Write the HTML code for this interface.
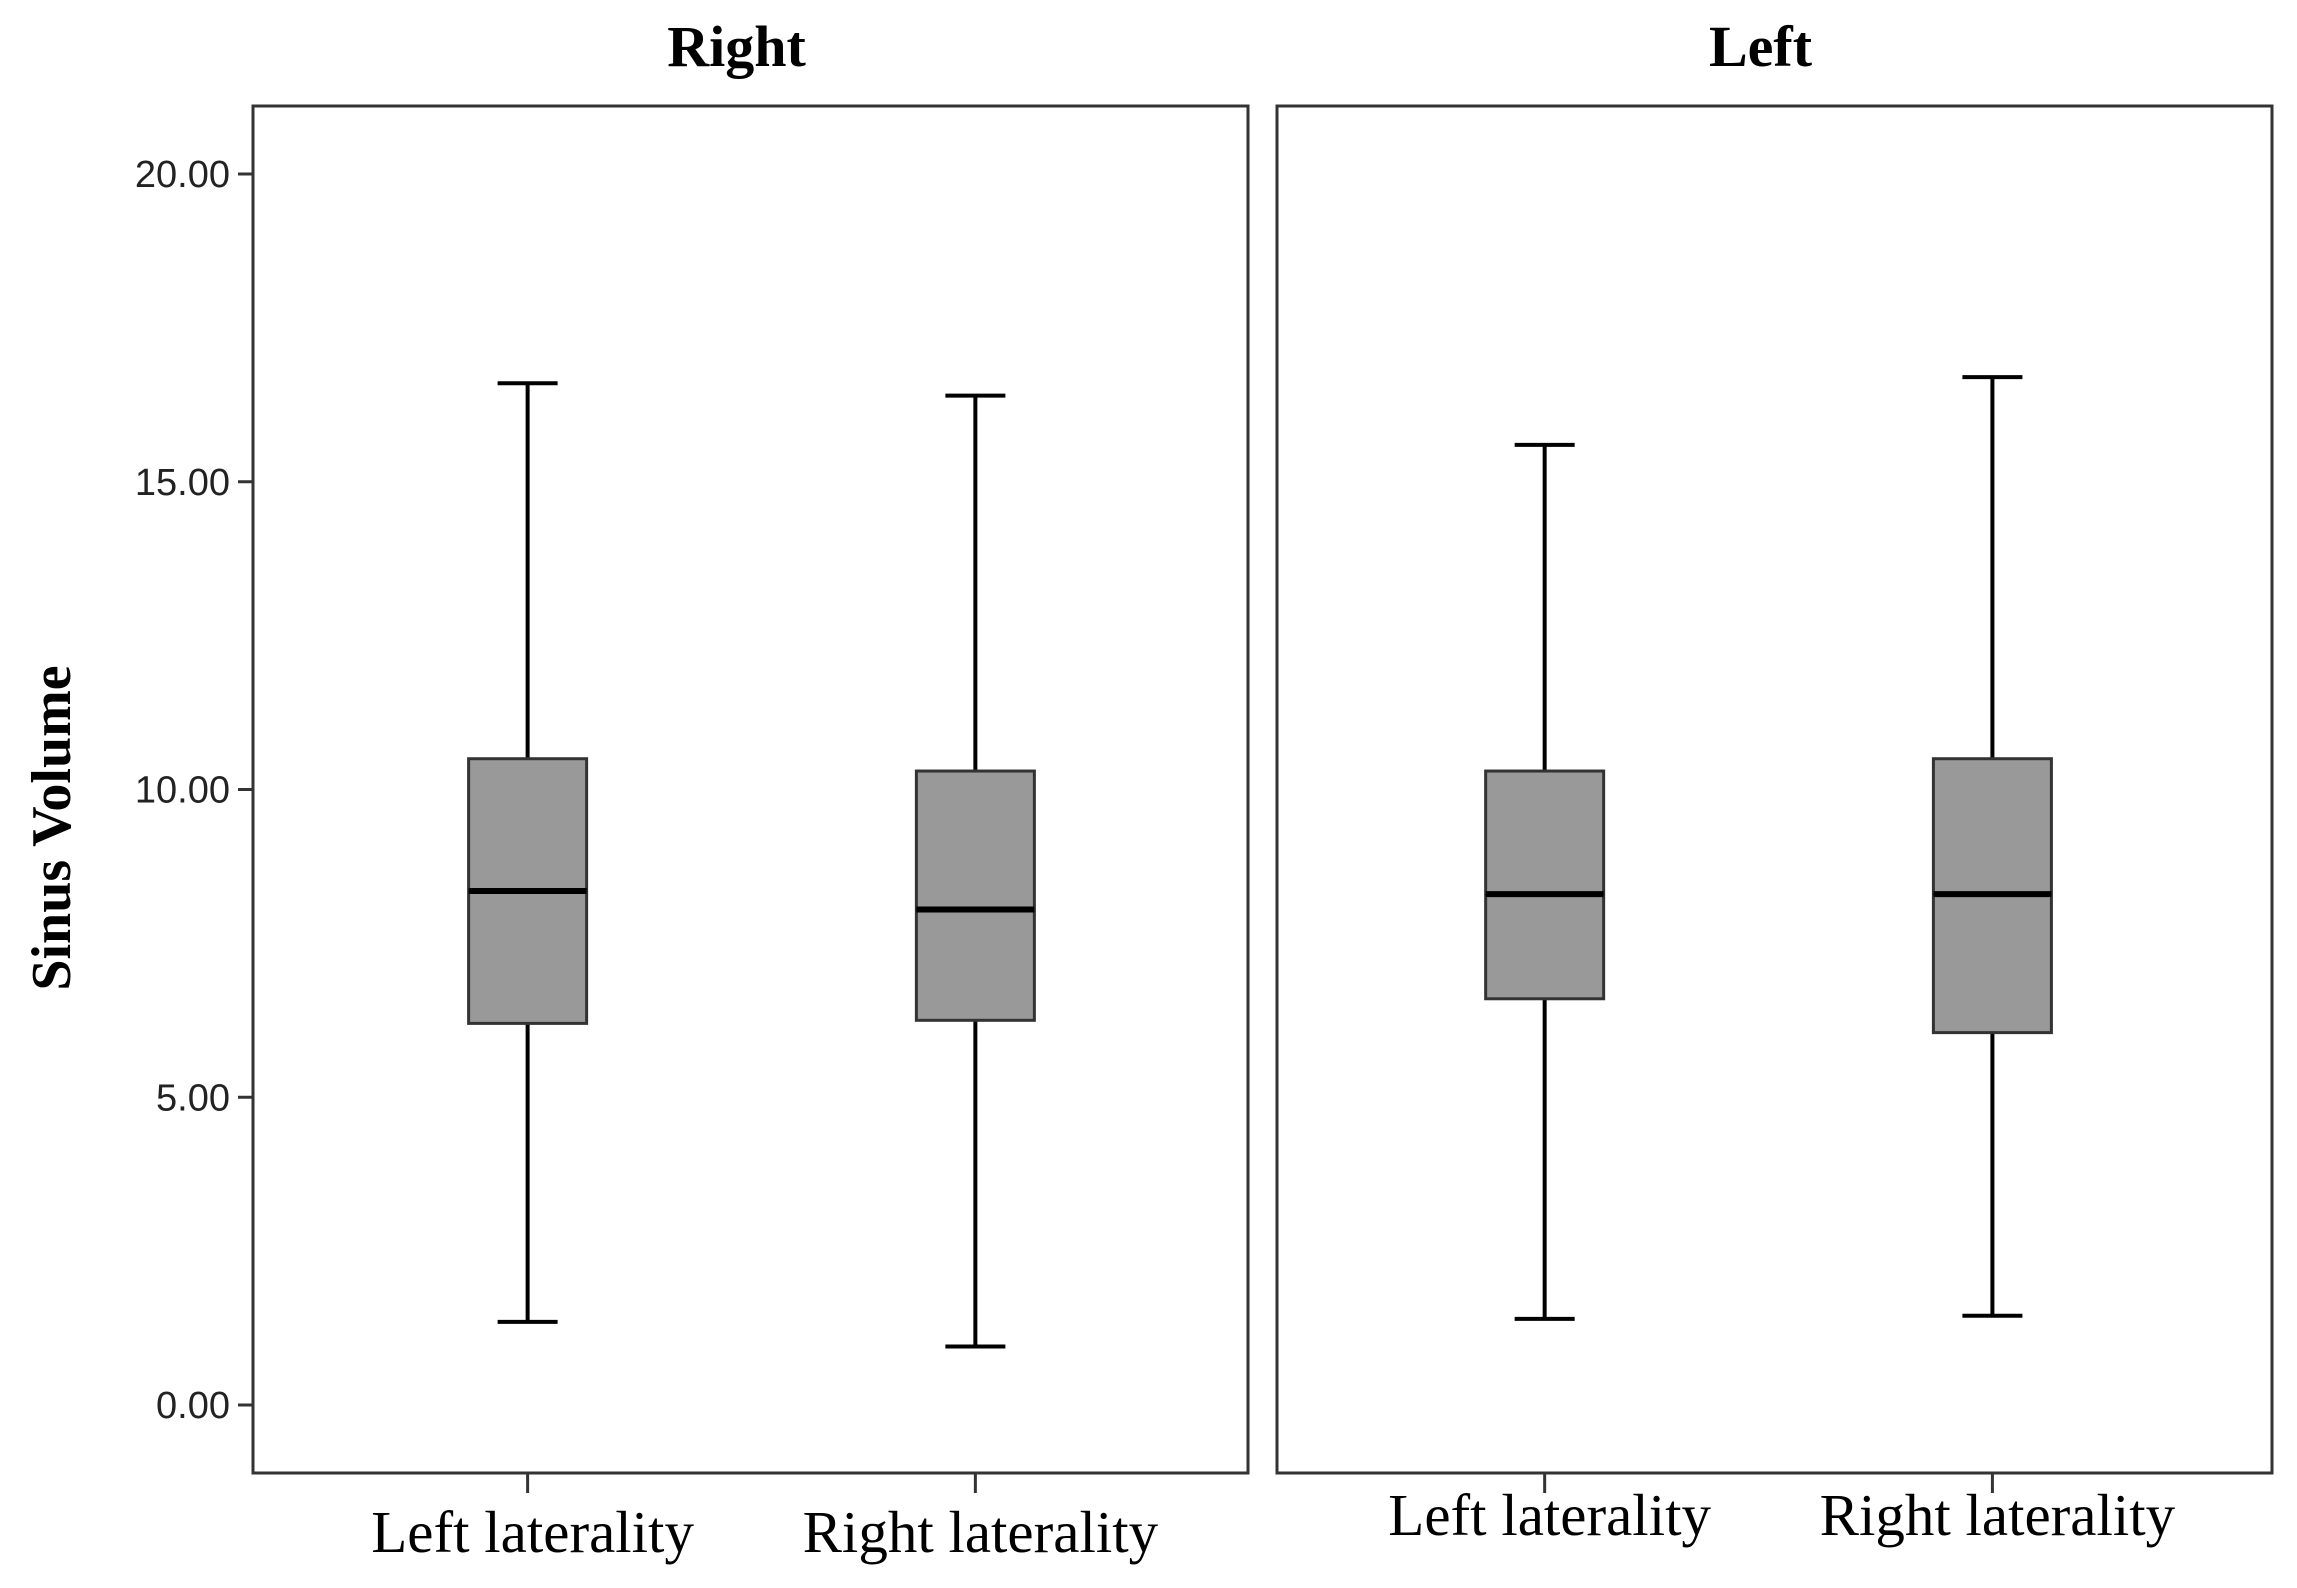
<!DOCTYPE html>
<html><head><meta charset="utf-8"><style>html,body{margin:0;padding:0;background:#fff}svg{display:block}</style></head>
<body>
<svg id="chart" width="2297" height="1588" xmlns="http://www.w3.org/2000/svg"></svg>
<script>
const panels = ["Right", "Left"];
const categories = ["Left laterality", "Right laterality"];
const mins = [[1.35, 0.95], [1.4, 1.45]];
const q1s = [[6.2, 6.25], [6.6, 6.05]];
const medians = [[8.35, 8.05], [8.3, 8.3]];
const q3s = [[10.5, 10.3], [10.3, 10.5]];
const maxs = [[16.6, 16.4], [15.6, 16.7]];
const yTicks = [0, 5, 10, 15, 20];
const yTickLabels = ["0.00", "5.00", "10.00", "15.00", "20.00"];

const NS = "http://www.w3.org/2000/svg";
const svg = document.getElementById('chart');
function el(tag, attrs, parent) {
  const e = document.createElementNS(NS, tag);
  for (const k in attrs) e.setAttribute(k, attrs[k]);
  (parent || svg).appendChild(e);
  return e;
}
const y = v => 1405 - v * 61.55;
const panelX = [[253, 1248], [1277, 2272]];
const catFrac = [[0.276, 0.726], [0.269, 0.719]];
const xPos = (p, c) => panelX[p][0] + (panelX[p][1] - panelX[p][0]) * catFrac[p][c];
const labelY = [1552, 1535];

panels.forEach((name, p) => {
  const g = el('g', {});
  
  
  const frame = el('rect', {x: panelX[p][0], y: 106, width: panelX[p][1] - panelX[p][0], height: 1367, fill: 'none', stroke: '#333', 'stroke-width': 3}, g);
  
  
  const t = el('text', {x: (panelX[p][0] + panelX[p][1]) / 2 - 14, y: 66, 'text-anchor': 'middle', 'font-family': 'Liberation Serif, serif', 'font-weight': 'bold', 'font-size': 58}, g);
  t.textContent = name;
  
  
  categories.forEach((cat, c) => {
    const cx = xPos(p, c);
    const bg = el('g', {}, g);
    
    
    el('line', {x1: cx, x2: cx, y1: y(mins[p][c]), y2: y(maxs[p][c]), stroke: '#000', 'stroke-width': 4}, bg);
    el('line', {x1: cx - 30, x2: cx + 30, y1: y(maxs[p][c]), y2: y(maxs[p][c]), stroke: '#000', 'stroke-width': 4}, bg);
    el('line', {x1: cx - 30, x2: cx + 30, y1: y(mins[p][c]), y2: y(mins[p][c]), stroke: '#000', 'stroke-width': 4}, bg);
    el('rect', {x: cx - 59, y: y(q3s[p][c]), width: 118, height: y(q1s[p][c]) - y(q3s[p][c]), fill: '#999', stroke: '#333', 'stroke-width': 3}, bg);
    el('line', {x1: cx - 59, x2: cx + 59, y1: y(medians[p][c]), y2: y(medians[p][c]), stroke: '#000', 'stroke-width': 6}, bg);
    el('line', {x1: cx, x2: cx, y1: 1473, y2: 1493, stroke: '#333', 'stroke-width': 3}, g);
    const lt = el('text', {x: cx + 5, y: labelY[p], 'text-anchor': 'middle', 'font-family': 'Liberation Serif, serif', 'font-size': 59}, g);
    lt.textContent = cat;
    
    
  });
});

yTicks.forEach((v, i) => {
  el('line', {x1: 238, x2: 253, y1: y(v), y2: y(v), stroke: '#333', 'stroke-width': 3});
  const t = el('text', {x: 230, y: y(v) + 13, 'text-anchor': 'end', 'font-family': 'Liberation Sans, sans-serif', 'font-size': 38, fill: '#222'});
  t.textContent = yTickLabels[i];
  
  
});
const yt = el('text', {x: 0, y: 0, transform: 'translate(70,828) rotate(-90)', 'text-anchor': 'middle', 'font-family': 'Liberation Serif, serif', 'font-weight': 'bold', 'font-size': 56});
yt.textContent = 'Sinus Volume';


</script>
</body></html>
